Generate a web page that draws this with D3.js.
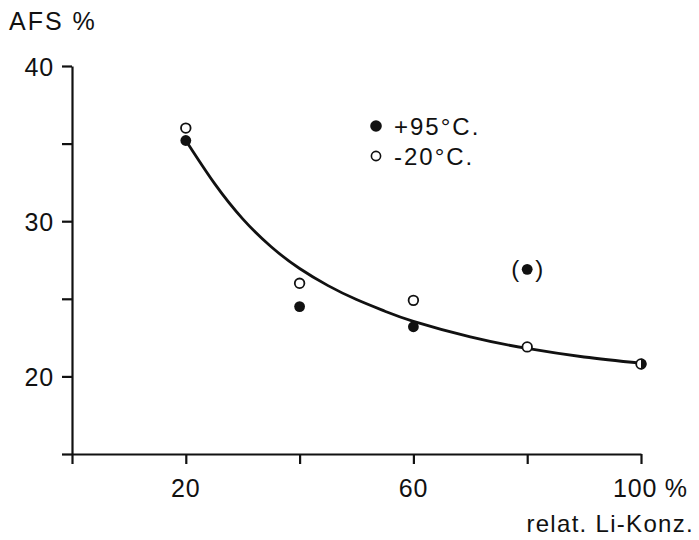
<!DOCTYPE html>
<html>
<head>
<meta charset="utf-8">
<script src="https://cdn.jsdelivr.net/npm/d3@7"></script>
<style>
  html, body { margin: 0; padding: 0; background: #fff; }
  svg text { font-family: "Liberation Sans", Arial, sans-serif; fill: #111; }
</style>
</head>
<body>
<svg id="chart" width="699" height="540"></svg>
<script>
// ---- data ----
const concentrations = [20, 40, 60, 80, 100];          // relat. Li-Konz. (%)
const afsHot  = [35.2, 24.5, 23.2, 26.9, 20.8];         // +95°C (filled)
const afsCold = [36.0, 26.0, 24.9, 21.9, 20.8];         // -20°C (open)
const bracketedHot = [80];                               // point shown in parentheses
const curveX = [20, 25, 30, 35, 40, 45, 50, 55, 60, 70, 80, 90, 100];
const curveY = [35.2, 32.45, 30.15, 28.35, 26.95, 25.85, 24.95, 24.2, 23.55, 22.55, 21.8, 21.25, 20.85];
const xTicks = [0, 20, 40, 60, 80, 100];
const xTickLabels = {20: "20", 60: "60", 100: "100 %"};
const yTicks = [15, 20, 25, 30, 35, 40];
const yTickLabels = {20: "20", 30: "30", 40: "40"};
const legendLabels = ["+95°C.", "-20°C."];

// ---- layout ----
const svg = d3.select("#chart");
const ink = "#111";
const x = d3.scaleLinear().domain([0, 100]).range([72, 641]);
const y = d3.scaleLinear().domain([15, 40]).range([454, 66]);

// axes
const gx = svg.append("g").attr("transform", `translate(0,${y(15)})`)
  .call(d3.axisBottom(x).tickValues(xTicks).tickSize(10).tickSizeOuter(0).tickFormat(""));
const gy = svg.append("g").attr("transform", `translate(${x(0)},0)`)
  .call(d3.axisLeft(y).tickValues(yTicks).tickSize(10).tickSizeOuter(0).tickFormat(""));
[gx, gy].forEach(g => {
  g.selectAll("path, line").attr("stroke", ink).attr("stroke-width", 2.2);
});

// tick labels
svg.append("g").selectAll("text")
  .data(xTicks.filter(d => xTickLabels[d]))
  .join("text")
  .attr("x", d => d === 100 ? x(d) - 28 : x(d))
  .attr("y", 497)
  .attr("text-anchor", d => d === 100 ? "start" : "middle")
  .attr("font-size", 25).attr("letter-spacing", 0.8)
  .text(d => xTickLabels[d]);

svg.append("g").selectAll("text")
  .data(yTicks.filter(d => yTickLabels[d]))
  .join("text")
  .attr("x", 54)
  .attr("y", d => y(d) + 10)
  .attr("text-anchor", "end")
  .attr("font-size", 25).attr("letter-spacing", 0.8)
  .text(d => yTickLabels[d]);

svg.append("text").attr("x", 9).attr("y", 30)
  .attr("font-size", 25).attr("letter-spacing", 2)
  .text("AFS %");
svg.append("text").attr("x", 694).attr("y", 532)
  .attr("text-anchor", "end")
  .attr("font-size", 24).attr("letter-spacing", 1.3)
  .text("relat. Li-Konz.");

// fitted curve
const line = d3.line()
  .x((d, i) => x(curveX[i]))
  .y(d => y(d))
  .curve(d3.curveNatural);
svg.append("path").datum(curveY)
  .attr("d", line)
  .attr("fill", "none").attr("stroke", ink).attr("stroke-width", 2.8);

// points
const r = 5.4;
const shared = concentrations.map((c, i) => afsHot[i] === afsCold[i]);

// open circles (-20°C)
svg.append("g").selectAll("circle")
  .data(concentrations.map((c, i) => ({c, v: afsCold[i]})))
  .join("circle")
  .attr("cx", d => x(d.c)).attr("cy", d => y(d.v)).attr("r", r - 0.6)
  .attr("fill", "#fff").attr("stroke", ink).attr("stroke-width", 1.8);

// filled circles (+95°C)
const hotPts = concentrations.map((c, i) => ({c, v: afsHot[i], half: shared[i]}));
svg.append("g").selectAll("circle")
  .data(hotPts.filter(d => !d.half))
  .join("circle")
  .attr("cx", d => x(d.c)).attr("cy", d => y(d.v)).attr("r", r)
  .attr("fill", ink);
// half-filled where both series coincide
const halfArc = d3.arc().innerRadius(0).outerRadius(r).startAngle(0).endAngle(Math.PI);
svg.append("g").selectAll("path")
  .data(hotPts.filter(d => d.half))
  .join("path")
  .attr("transform", d => `translate(${x(d.c)},${y(d.v)})`)
  .attr("d", halfArc())
  .attr("fill", ink);

// parentheses around bracketed point
const br = svg.append("g").selectAll("g")
  .data(hotPts.filter(d => bracketedHot.includes(d.c)))
  .join("g")
  .attr("transform", d => `translate(${x(d.c)},${y(d.v)})`);
br.append("text").attr("x", -8).attr("y", 8).attr("text-anchor", "end")
  .attr("font-size", 24).text("(");
br.append("text").attr("x", 8).attr("y", 8).attr("text-anchor", "start")
  .attr("font-size", 24).text(")");

// legend
const leg = svg.append("g");
legendLabels.forEach((lab, i) => {
  const cy = 126 + i * 30;
  if (i === 0) {
    leg.append("circle").attr("cx", 376).attr("cy", cy).attr("r", 5.8).attr("fill", ink);
  } else {
    leg.append("circle").attr("cx", 376).attr("cy", cy).attr("r", 4.6)
      .attr("fill", "#fff").attr("stroke", ink).attr("stroke-width", 1.6);
  }
  leg.append("text").attr("x", 394).attr("y", cy + 9)
    .attr("font-size", 24).attr("letter-spacing", 2)
    .text(lab);
});
</script>
</body>
</html>
